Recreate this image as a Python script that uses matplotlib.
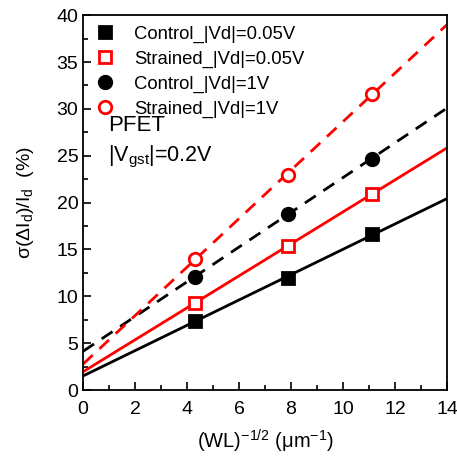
import numpy as np
import matplotlib
matplotlib.use("Agg")
import matplotlib.pyplot as plt
from matplotlib.ticker import MultipleLocator

plt.rcParams['font.family'] = ['Liberation Sans', 'DejaVu Sans']
plt.rcParams['mathtext.fontset'] = 'custom'
plt.rcParams['mathtext.rm'] = 'Liberation Sans'
plt.rcParams['mathtext.it'] = 'Liberation Sans'

x = [4.3, 7.9, 11.1]
control_005 = [7.4, 12.0, 16.6]
strained_005 = [9.3, 15.4, 20.9]
control_1 = [12.1, 18.8, 24.7]
strained_1 = [14.0, 23.0, 31.6]

dash = (0, (4.7, 3.3))
series = [
    ("Control_|Vd|=0.05V", control_005, "black", "s", True, "-"),
    ("Strained_|Vd|=0.05V", strained_005, "red", "s", False, "-"),
    ("Control_|Vd|=1V", control_1, "black", "o", True, dash),
    ("Strained_|Vd|=1V", strained_1, "red", "o", False, dash),
]

fig = plt.figure(figsize=(4.57, 4.61), dpi=100)
ax = fig.add_axes([0.182, 0.154, 0.796, 0.813])

xf = np.array([0, 14])
handles = []
for label, y, color, marker, filled, ls in series:
    k, b = np.polyfit(x, y, 1)
    ax.plot(xf, k * xf + b, color=color, lw=2, ls=ls, zorder=2)
    h, = ax.plot(x, y, ls="none", marker=marker, ms=9 if marker == "o" else 8.5,
                 mfc=color if filled else "white", mec=color, mew=2, label=label, zorder=3)
    handles.append(h)

ax.set_xlim(0, 14)
ax.set_ylim(0, 40)
ax.xaxis.set_major_locator(MultipleLocator(2))
ax.xaxis.set_minor_locator(MultipleLocator(1))
ax.yaxis.set_major_locator(MultipleLocator(5))
ax.yaxis.set_minor_locator(MultipleLocator(2.5))
ax.tick_params(which="both", direction="in", labelsize=14, width=1.2)
ax.tick_params(which="major", length=6)
ax.tick_params(which="minor", length=3.5)
ax.tick_params(axis="x", which="major", pad=8)
for s in ax.spines.values():
    s.set_linewidth(1.3)

ax.set_xlabel(r"(WL)$^{\mathregular{-1/2}}$ ($\mathregular{\mu}$m$^{\mathregular{-1}}$)", fontsize=14.5, labelpad=7)
ax.set_ylabel(r"$\mathregular{\sigma(\Delta I_d)/I_d}$  (%)", fontsize=14, labelpad=15)

ax.legend(handles=handles, loc="upper left", frameon=False, fontsize=13.3,
          handletextpad=1.0, bbox_to_anchor=(-0.012, 1.012), labelspacing=0.42, handlelength=1.2,
          borderpad=0.3)
ax.text(0.068, 0.69, "PFET", transform=ax.transAxes, fontsize=16)
ax.text(0.068, 0.61, r"|V$_{\mathregular{gst}}$|=0.2V", transform=ax.transAxes, fontsize=15.5)

fig.savefig("out.png", dpi=100)
